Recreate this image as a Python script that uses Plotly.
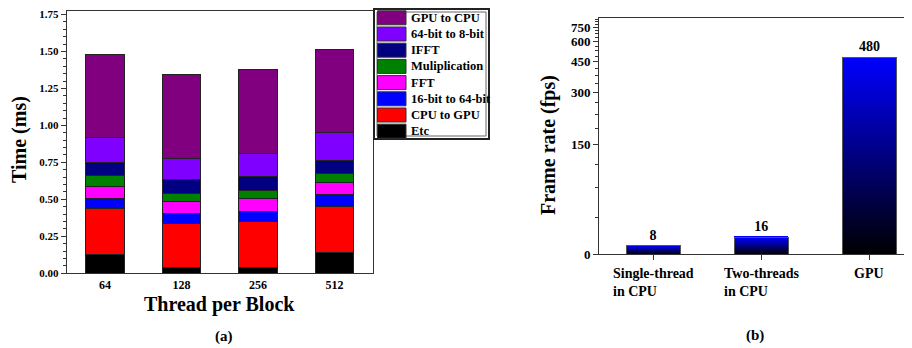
import plotly.graph_objects as go

# page body adds an 8px margin, so the figure is drawn 8px smaller and offset
OFF = 8
W, H = 912 - OFF, 348 - OFF

# ---------------- data: panel (a) ----------------
threads = ["64", "128", "256", "512"]
etc = [0.130, 0.036, 0.042, 0.139]
cpu_to_gpu = [0.308, 0.301, 0.307, 0.310]
b16_to_64 = [0.069, 0.065, 0.067, 0.085]
fft = [0.079, 0.083, 0.089, 0.081]
mult = [0.078, 0.058, 0.054, 0.060]
ifft = [0.087, 0.094, 0.094, 0.089]
b64_to_8 = [0.165, 0.139, 0.156, 0.186]
gpu_to_cpu = [0.566, 0.565, 0.566, 0.563]
total_labels = ["1.48 ms", "1.35 ms", "1.37 ms", "1.51 ms"]

layer_names = ["Etc", "CPU to GPU", "16-bit to 64-bit", "FFT", "Muliplication",
               "IFFT", "64-bit to 8-bit", "GPU to CPU"]
layer_values = [etc, cpu_to_gpu, b16_to_64, fft, mult, ifft, b64_to_8, gpu_to_cpu]
layer_colors = ["#000000", "#FF0000", "#0000FF", "#FF00FF", "#008000",
                "#000080", "#8000FF", "#800080"]

# ---------------- data: panel (b) ----------------
methods = ["Single-thread<br>in CPU", "Two-threads<br>in CPU", "GPU"]
fps = [8, 16, 480]
fps_ticks = [0, 150, 300, 450, 600, 750]
fps_minor_step = 37.5
fps_axis_max = 877

OFFSET = 274.0  # offset-reciprocal style axis scale


def scale(v):
    return v / (v + OFFSET)


def px(x):
    return (x - OFF) / W


def py(y):
    return 1 - (y - OFF) / H


FONT = "Liberation Serif"
AXC = "#333333"

fig = go.Figure()

# ---- stacked bars (a)
for name, vals, col in zip(layer_names, layer_values, layer_colors):
    fig.add_trace(go.Bar(x=threads, y=vals, name=name, marker=dict(color=col, line=dict(color="#222222", width=1)),
                         width=0.5, xaxis="x", yaxis="y", showlegend=False))

totals = [sum(v[i] for v in layer_values) for i in range(len(threads))]
for i, t in enumerate(totals):
    fig.add_annotation(x=threads[i], y=t, xref="x", yref="y", text=total_labels[i], showarrow=False,
                       xanchor="center", yanchor="bottom", yshift=5,
                       font=dict(family=FONT, size=14, color="black", weight="bold"))

# ---- gradient bars (b): bar split into thin slices shaded black->blue
N = 60
for k in range(N):
    b = int(round(255 * (k + 0.5) / N))
    fig.add_trace(go.Bar(x=methods, y=[scale(v) / N for v in fps], width=0.5,
                         marker=dict(color=f"rgb(0,0,{b})", line=dict(width=0)),
                         xaxis="x2", yaxis="y2", showlegend=False, hoverinfo="skip"))
# outline + value labels
fig.add_trace(go.Bar(x=methods, y=[scale(v) for v in fps], width=0.5,
                     marker=dict(color="rgba(0,0,0,0)", line=dict(color="#555555", width=1)),
                     text=[str(v) for v in fps], textposition="outside", cliponaxis=False,
                     textfont=dict(family=FONT, size=14, color="black", weight="bold"),
                     xaxis="x2", yaxis="y3", showlegend=False))

# ---- manual legend for (a)
lx0, ly0, lx1, ly1 = 374, 9, 489, 139
fig.add_shape(type="rect", xref="paper", yref="paper", x0=px(lx0), x1=px(lx1), y0=py(ly1), y1=py(ly0),
              line=dict(color="#222222", width=2))
fig.add_shape(type="rect", xref="paper", yref="paper", x0=px(lx0 + 3), x1=px(lx1 - 3), y0=py(ly1 - 3), y1=py(ly0 + 3),
              line=dict(color="#666666", width=1))
for j, idx in enumerate(range(len(layer_names) - 1, -1, -1)):
    cy = 17.8 + j * 16.2
    fig.add_shape(type="rect", xref="paper", yref="paper", x0=px(377.5), x1=px(406), y0=py(cy + 7), y1=py(cy - 7),
                  fillcolor=layer_colors[idx], line=dict(color="#333333", width=1))
    fig.add_annotation(x=px(409), y=py(cy), xref="paper", yref="paper", text=layer_names[idx], showarrow=False,
                       xanchor="left", yanchor="middle",
                       font=dict(family=FONT, size=12.5, color="black", weight="bold"))

# ---- category labels (b), left aligned two-line
for m in methods:
    fig.add_annotation(x=m, y=py(264), xref="x2", yref="paper", text=m, showarrow=False, align="left",
                       xanchor="center", yanchor="top",
                       font=dict(family=FONT, size=14, color="black", weight="bold"))

title_font = dict(family=FONT, size=20, color="black", weight="bold")
# ---- axis titles
fig.add_annotation(x=px(219), y=py(304), xref="paper", yref="paper", text="Thread per Block", showarrow=False,
                   xanchor="center", yanchor="middle", font=title_font)
fig.add_annotation(x=px(20), y=py(140), xref="paper", yref="paper", text="Time (ms)", showarrow=False,
                   xanchor="center", yanchor="middle", textangle=-90, font=title_font)
fig.add_annotation(x=px(548), y=py(145), xref="paper", yref="paper", text="Frame rate (fps)", showarrow=False,
                   xanchor="center", yanchor="middle", textangle=-90, font=title_font)

# ---- panel captions
fig.add_annotation(x=px(224), y=py(336), xref="paper", yref="paper", text="(a)", showarrow=False,
                   xanchor="center", yanchor="middle",
                   font=dict(family=FONT, size=15, color="black", weight="bold"))
fig.add_annotation(x=px(755), y=py(335), xref="paper", yref="paper", text="(b)", showarrow=False,
                   xanchor="center", yanchor="middle",
                   font=dict(family=FONT, size=15, color="black", weight="bold"))

tickfont_a = dict(family=FONT, size=11, color="black", weight="bold")

minor_vals = []
v = fps_minor_step
while v < fps_axis_max:
    if v not in fps_ticks:
        minor_vals.append(scale(v))
    v += fps_minor_step

fig.update_layout(
    width=W, height=H, margin=dict(l=0, r=0, t=0, b=0, autoexpand=False),
    paper_bgcolor="white", plot_bgcolor="white",
    barmode="stack", bargap=0.5,
    xaxis=dict(domain=[px(66.7), px(372.7)], anchor="y", range=[-0.5, 3.5], type="category",
               showline=True, mirror=True, linecolor=AXC, linewidth=1, ticks="", automargin=False,
               tickfont=dict(family=FONT, size=12, color="black", weight="bold")),
    yaxis=dict(domain=[py(273.3), py(10.5)], anchor="x", range=[0, 1.777], tickvals=[0, 0.25, 0.5, 0.75, 1.0, 1.25, 1.5, 1.75],
               ticktext=["0.00", "0.25", "0.50", "0.75", "1.00", "1.25", "1.50", "1.75"],
               showline=True, mirror=True, linecolor=AXC, linewidth=1, ticks="outside", ticklen=5,
               tickcolor=AXC, showgrid=False, zeroline=False, tickfont=tickfont_a, automargin=False,
               ticklabeloverflow="allow",
               minor=dict(dtick=0.05, tick0=0, ticks="outside", ticklen=3, tickcolor=AXC)),
    xaxis2=dict(domain=[px(599), px(910.5)], anchor="y2", range=[-0.5, 2.38], type="category",
                showline=True, mirror=True, linecolor=AXC, linewidth=1, ticks="outside", ticklen=5,
                tickcolor=AXC, showticklabels=False, automargin=False),
    yaxis2=dict(domain=[py(254.3), py(18.3)], anchor="x2", range=[0, scale(fps_axis_max)],
                tickvals=[scale(t) for t in fps_ticks], ticktext=[str(t) for t in fps_ticks],
                showline=True, mirror=True, linecolor=AXC, linewidth=1, ticks="outside", ticklen=5,
                tickcolor=AXC, showgrid=False, zeroline=False, automargin=False,
                ticklabeloverflow="allow",
                tickfont=dict(family=FONT, size=13, color="black", weight="bold"),
                minor=dict(tickmode="array", tickvals=minor_vals, ticks="outside", ticklen=3, tickcolor=AXC)),
    yaxis3=dict(overlaying="y2", anchor="x2", range=[0, scale(fps_axis_max)], visible=False),
)

fig.write_html("out.html")
